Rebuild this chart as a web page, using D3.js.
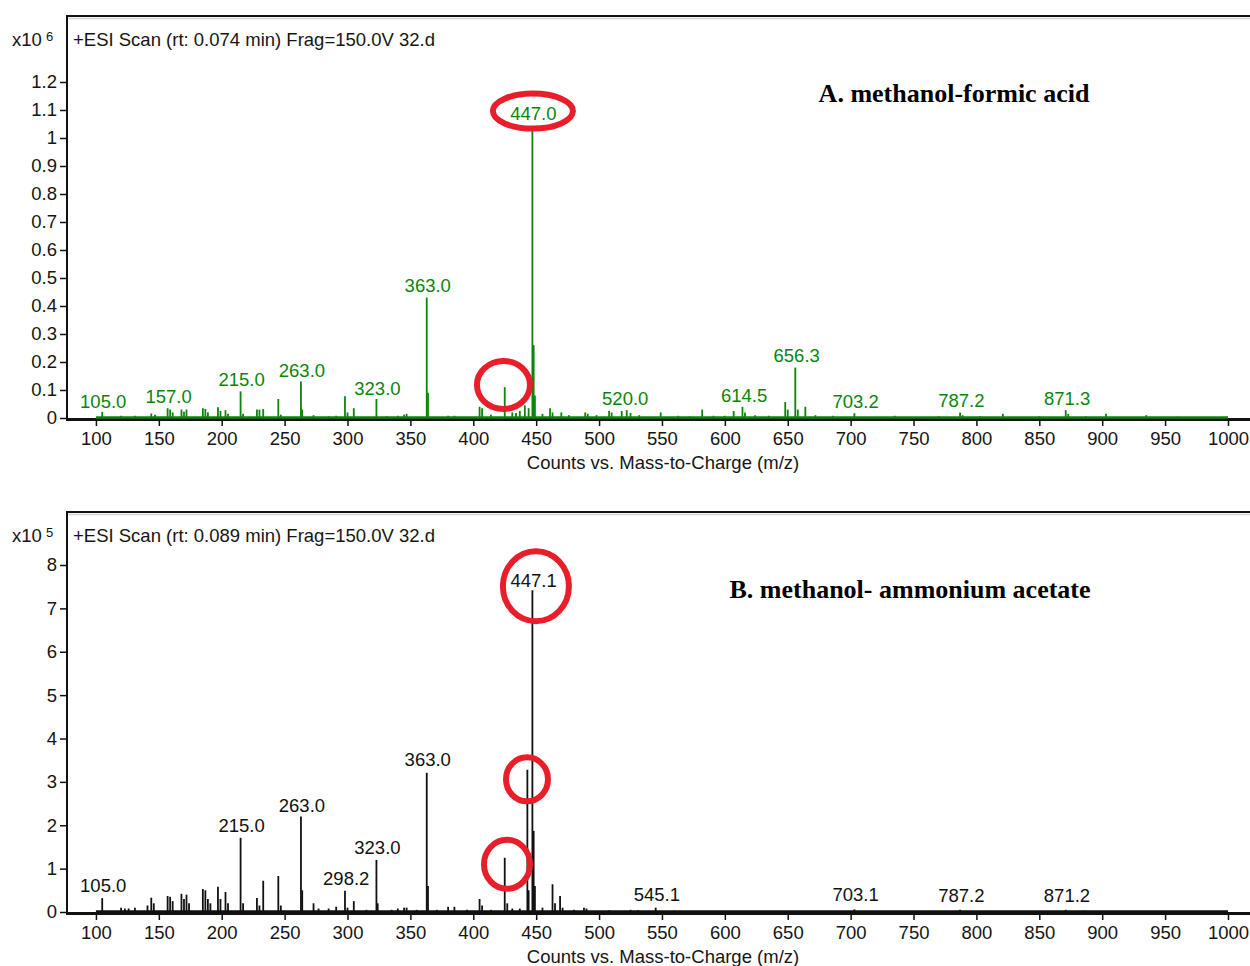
<!DOCTYPE html>
<meta charset="utf-8">
<head>
  <title>ESI scans, methanol-formic acid vs methanol-ammonium acetate</title>
</head>

<style>
body {
  margin: 0;
  background: #fff;
}
text {
  font-family: "Liberation Sans", Arial, sans-serif;
  font-size: 18.5px;
  fill: #151515;
}
.title {
  font-family: "Liberation Serif", "Times New Roman", serif;
  font-weight: bold;
  font-size: 26px;
  fill: #000;
}
.sup {
  font-size: 13px;
}
</style>

<body>
  <svg width="1250" height="966"></svg>

  <script src="https://cdnjs.cloudflare.com/ajax/libs/d3/7.8.5/d3.min.js"></script>
  <script>
// shared axis ticks
var xTicks = [100, 150, 200, 250, 300, 350, 400, 450, 500, 550, 600, 650, 700, 750, 800, 850, 900, 950, 1000];
var yTicksA = [0, 0.1, 0.2, 0.3, 0.4, 0.5, 0.6, 0.7, 0.8, 0.9, 1, 1.1, 1.2];
var yTicksB = [0, 1, 2, 3, 4, 5, 6, 7, 8];

// A. methanol-formic acid (counts x10^6)
var mzA = [105, 120, 131, 144, 147, 157, 159, 161, 168, 170, 172, 185, 187, 189, 197, 199, 203, 205,
  215, 217, 228, 230, 233, 245, 247, 263, 264, 273, 285, 291, 298, 300, 305, 323, 331, 340, 345, 347,
  363, 364, 380, 385, 405, 407, 414, 425, 431, 434, 437, 441, 444, 447, 448, 449, 455, 461, 463, 470,
  476, 489, 491, 498, 508, 510, 518, 522, 525, 532, 549, 563, 572, 582, 591, 600, 607, 614, 616, 624,
  635, 648, 650, 656, 658, 664, 672, 686, 703, 735, 770, 787, 789, 803, 821, 850, 871, 873, 887, 903,
  935, 960];
var intA = [0.022, 0.008, 0.008, 0.016, 0.012, 0.035, 0.03, 0.02, 0.03, 0.022, 0.03, 0.035, 0.032, 0.02, 0.038, 0.025, 0.028, 0.015,
  0.095, 0.015, 0.03, 0.03, 0.032, 0.068, 0.012, 0.13, 0.03, 0.01, 0.006, 0.008, 0.078, 0.02, 0.035, 0.068, 0.006, 0.008, 0.012, 0.015,
  0.43, 0.09, 0.008, 0.008, 0.04, 0.035, 0.012, 0.11, 0.02, 0.018, 0.025, 0.045, 0.035, 1.035, 0.26, 0.08, 0.015, 0.035, 0.02, 0.02,
  0.01, 0.02, 0.015, 0.01, 0.025, 0.02, 0.025, 0.028, 0.018, 0.01, 0.02, 0.008, 0.006, 0.03, 0.008, 0.008, 0.025, 0.04, 0.02, 0.01,
  0.008, 0.057, 0.03, 0.18, 0.03, 0.04, 0.01, 0.008, 0.017, 0.008, 0.006, 0.02, 0.01, 0.006, 0.015, 0.006, 0.028, 0.015, 0.006, 0.015,
  0.01, 0.005];
var labelMzA = [105, 157, 215, 263, 323, 363, 447, 520, 614.5, 656.3, 703.2, 787.2, 871.3];
var labelTextA = ["105.0", "157.0", "215.0", "263.0", "323.0", "363.0", "447.0", "520.0", "614.5", "656.3", "703.2", "787.2", "871.3"];
var labelLevelA = [0.036, 0.054, 0.114, 0.146, 0.082, 0.45, 1.064, 0.046, 0.057, 0.2, 0.036, 0.04, 0.046];
var circleMzA = [447.4, 424];
var circleLevelA = [1.096, 0.118];

// B. methanol- ammonium acetate (counts x10^5)
var mzB = [105, 120, 123, 126, 131, 141, 144, 146, 157, 159, 161, 168, 170, 172, 174, 185, 187, 189, 191,
  197, 199, 203, 205, 215, 217, 228, 230, 233, 245, 247, 263, 264, 273, 277, 285, 291, 298, 300, 305, 315,
  323, 324, 335, 340, 345, 347, 355, 363, 364, 371, 380, 385, 395, 405, 407, 414, 425, 427, 431, 437,
  443, 444, 447, 448, 449, 455, 463, 465, 469, 471, 480, 488, 490, 508, 525, 531, 545, 560, 585, 690,
  703, 787, 871, 885];
var intB = [0.32, 0.1, 0.08, 0.08, 0.1, 0.15, 0.33, 0.2, 0.37, 0.35, 0.25, 0.42, 0.3, 0.4, 0.2, 0.53, 0.5, 0.3, 0.2,
  0.58, 0.3, 0.46, 0.2, 1.71, 0.2, 0.32, 0.15, 0.72, 0.83, 0.15, 2.2, 0.5, 0.2, 0.08, 0.08, 0.12, 0.49, 0.1, 0.25, 0.05,
  1.2, 0.2, 0.05, 0.08, 0.1, 0.1, 0.05, 3.21, 0.6, 0.05, 0.12, 0.12, 0.05, 0.3, 0.15, 0.05, 1.25, 0.2, 0.08, 0.08,
  3.28, 0.5, 7.42, 1.87, 0.6, 0.1, 0.64, 0.2, 0.37, 0.1, 0.05, 0.1, 0.08, 0.04, 0.05, 0.04, 0.1, 0.03, 0.02, 0.02,
  0.06, 0.05, 0.05, 0.03];
var labelMzB = [105, 215, 263, 298.2, 323, 363, 447.1, 545.1, 703.1, 787.2, 871.2];
var labelTextB = ["105.0", "215.0", "263.0", "298.2", "323.0", "363.0", "447.1", "545.1", "703.1", "787.2", "871.2"];
var labelLevelB = [0.46, 1.84, 2.3, 0.62, 1.34, 3.36, 7.49, 0.25, 0.26, 0.24, 0.24];
var circleMzB = [449.8, 442.7, 426.8];
var circleLevelB = [7.51, 3.06, 1.1];

var svg = d3.select('svg');
var xAxisTitle = 'Counts vs. Mass-to-Charge (m/z)';

function panel(o) {
  var g = svg.append('g');
  var x = d3.scaleLinear().domain([77, 1017.5]).range([67, 1250]);
  var y = d3.scaleLinear().domain([0, o.yMax]).range([o.y0, o.yTop]);

  // frame (right side runs off the page)
  g.append('line').attr('x1', 67).attr('x2', 1250).attr('y1', o.top + 2.5).attr('y2', o.top + 2.5)
    .attr('stroke', '#d4d4d4').attr('stroke-width', 1.5);
  g.append('line').attr('x1', 66).attr('x2', 1250).attr('y1', o.top).attr('y2', o.top)
    .attr('stroke', '#111').attr('stroke-width', 2);
  g.append('line').attr('x1', 67).attr('x2', 67).attr('y1', o.top).attr('y2', o.y0 + 2)
    .attr('stroke', '#111').attr('stroke-width', 2);

  // y axis
  var ya = d3.axisLeft(y)
    .tickValues(o.yTicks)
    .tickSize(7)
    .tickPadding(3)
    .tickFormat(function(d) { return String(+d.toFixed(1)); });
  var yg = g.append('g').attr('transform', 'translate(67,0)').call(ya);
  yg.select('.domain').remove();
  yg.selectAll('line').attr('stroke', '#111').attr('stroke-width', 1.5);

  // x axis
  var xa = d3.axisBottom(x)
    .tickValues(xTicks)
    .tickSize(7)
    .tickPadding(6)
    .tickFormat(d3.format('d'));
  var xg = g.append('g').attr('transform', 'translate(0,' + (o.y0 + 1) + ')').call(xa);
  xg.select('.domain').remove();
  xg.selectAll('line').attr('stroke', '#111').attr('stroke-width', 1.5);
  g.append('line').attr('x1', 66).attr('x2', 1250).attr('y1', o.y0 + 1.5).attr('y2', o.y0 + 1.5)
    .attr('stroke', '#111').attr('stroke-width', 3);

  // spectrum: baseline + sticks
  g.append('line')
    .attr('x1', x(d3.min(o.mz) - 5)).attr('x2', x(1000))
    .attr('y1', y(0) - 0.5).attr('y2', y(0) - 0.5)
    .attr('stroke', o.color).attr('stroke-width', 2.5);
  g.selectAll('line.peak')
    .data(d3.zip(o.mz, o.val))
    .enter()
    .append('line')
    .attr('class', 'peak')
    .attr('x1', function(d) { return x(d[0]); })
    .attr('x2', function(d) { return x(d[0]); })
    .attr('y1', y(0))
    .attr('y2', function(d) { return y(d[1]); })
    .attr('stroke', o.color)
    .attr('stroke-width', 1.8);

  // peak labels
  g.selectAll('text.lab')
    .data(d3.zip(o.labMz, o.labText, o.labLevel))
    .enter()
    .append('text')
    .attr('class', 'lab')
    .attr('x', function(d) { return x(d[0]) + 1; })
    .attr('y', function(d) { return y(d[2]); })
    .attr('text-anchor', 'middle')
    .style('fill', o.color)
    .text(function(d) { return d[1]; });

  // red rings
  g.selectAll('ellipse')
    .data(d3.zip(o.cMz, o.cLevel, o.cR))
    .enter()
    .append('ellipse')
    .attr('cx', function(d) { return x(d[0]); })
    .attr('cy', function(d) { return y(d[1]); })
    .attr('rx', function(d) { return d[2][0]; })
    .attr('ry', function(d) { return d[2][1]; })
    .attr('fill', 'none')
    .attr('stroke', '#e81f2b')
    .attr('stroke-width', 6);

  // header texts
  g.append('text').attr('x', 12).attr('y', o.top + 30).text('x10');
  g.append('text').attr('class', 'sup').attr('x', 46).attr('y', o.top + 25).text(o.exp);
  g.append('text').attr('x', 73).attr('y', o.top + 30).text(o.header);
  g.append('text').attr('class', 'title').attr('x', o.titleX).attr('y', o.top + 86)
    .attr('text-anchor', 'middle').text(o.title);
  g.append('text').attr('x', 663).attr('y', o.y0 + 51)
    .attr('text-anchor', 'middle').text(xAxisTitle);
}

panel({
  top: 16, y0: 418, yTop: 82, yMax: 1.2, yTicks: yTicksA,
  mz: mzA, val: intA, color: '#0a850a',
  labMz: labelMzA, labText: labelTextA, labLevel: labelLevelA,
  cMz: circleMzA, cLevel: circleLevelA, cR: [[40, 17.5], [26.5, 24]],
  exp: '6', header: '+ESI Scan (rt: 0.074 min) Frag=150.0V 32.d',
  title: 'A. methanol-formic acid', titleX: 954
});

panel({
  top: 512, y0: 912, yTop: 565, yMax: 8, yTicks: yTicksB,
  mz: mzB, val: intB, color: '#111',
  labMz: labelMzB, labText: labelTextB, labLevel: labelLevelB,
  cMz: circleMzB, cLevel: circleLevelB, cR: [[33, 35], [21, 22], [23, 24.5]],
  exp: '5', header: '+ESI Scan (rt: 0.089 min) Frag=150.0V 32.d',
  title: 'B. methanol- ammonium acetate', titleX: 910
});
  </script>
</body>
</html>
